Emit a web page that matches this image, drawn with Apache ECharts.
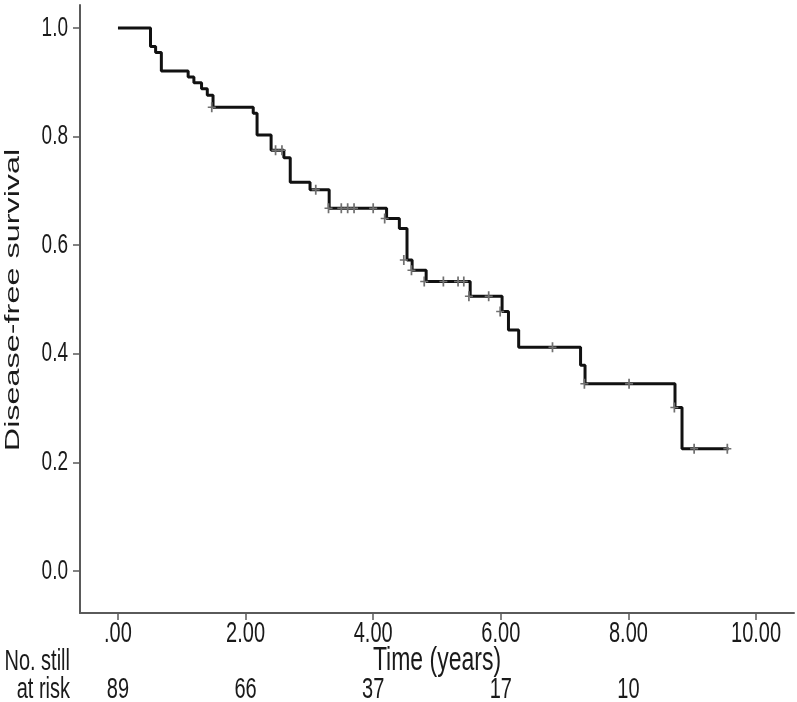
<!DOCTYPE html>
<html><head><meta charset="utf-8">
<script src="https://cdn.jsdelivr.net/npm/echarts@6/dist/echarts.min.js"></script>
<style>html,body{margin:0;padding:0;background:#fff}#c{width:797px;height:702px}</style>
</head><body><div id="c"></div>
<script>
// Kaplan-Meier step points: time (years) and survival after each event
const stepTimes = [0, 0.51, 0.59, 0.68, 1.10, 1.19, 1.31, 1.40, 1.49, 2.12, 2.18, 2.40, 2.60, 2.70, 3.01, 3.31, 4.21, 4.41, 4.53, 4.61, 4.83, 5.52, 6.02, 6.12, 6.28, 7.25, 7.32, 8.73, 8.84, 9.57];
const stepSurv  = [1.0, 0.966, 0.955, 0.921, 0.910, 0.899, 0.888, 0.876, 0.854, 0.843, 0.803, 0.775, 0.761, 0.716, 0.702, 0.668, 0.649, 0.631, 0.573, 0.554, 0.533, 0.506, 0.478, 0.444, 0.412, 0.379, 0.345, 0.301, 0.225, 0.225];
// Censored observations
const censorTimes = [1.47, 2.47, 2.57, 3.10, 3.30, 3.50, 3.60, 3.70, 4.00, 4.18, 4.48, 4.60, 4.80, 5.10, 5.33, 5.42, 5.50, 5.81, 5.99, 6.81, 7.31, 8.01, 8.72, 9.03, 9.55];
const censorSurv  = [0.854, 0.775, 0.775, 0.702, 0.668, 0.668, 0.668, 0.668, 0.668, 0.649, 0.573, 0.554, 0.533, 0.533, 0.533, 0.533, 0.506, 0.506, 0.478, 0.412, 0.345, 0.345, 0.301, 0.225, 0.225];
// Axis ticks and numbers at risk
const xTicks = [0, 2, 4, 6, 8, 10];
const xTickLabels = ['.00', '2.00', '4.00', '6.00', '8.00', '10.00'];
const yTicks = [0, 0.2, 0.4, 0.6, 0.8, 1.0];
const yTickLabels = ['0.0', '0.2', '0.4', '0.6', '0.8', '1.0'];
const riskTimes = [0, 2, 4, 6, 8];
const riskCounts = [89, 66, 37, 17, 10];
const xTitle = 'Time (years)';
const yTitle = 'Disease-free survival';
const riskTitle = ['No. still', 'at risk'];

const FONT = "'Liberation Sans', Arial, sans-serif";
const TXT = '#1a1a1a';
const STRETCH = 1.45;
const chart = echarts.init(document.getElementById('c'), null, {renderer: 'canvas'});
const axisCol = '#5a5a5a';
chart.setOption({
  animation: false,
  backgroundColor: '#fff',
  grid: {left: 80, right: 3, top: 5, bottom: 89, containLabel: false},
  xAxis: {
    type: 'value', min: -0.595, max: 10.595,
    splitLine: {show: false},
    axisLine: {show: true, onZero: false, lineStyle: {color: axisCol, width: 2}},
    axisTick: {show: true, customValues: xTicks, length: 7, lineStyle: {color: axisCol, width: 1.5}},
    axisLabel: {show: false}
  },
  yAxis: {
    type: 'value', min: -0.0773, max: 1.0424,
    splitLine: {show: false},
    axisLine: {show: true, onZero: false, lineStyle: {color: axisCol, width: 2}},
    axisTick: {show: true, customValues: yTicks, length: 7, lineStyle: {color: axisCol, width: 1.5}},
    axisLabel: {show: false}
  },
  series: [{
    type: 'line', step: 'end',
    data: stepTimes.map((t, i) => [t, stepSurv[i]]),
    showSymbol: false, lineStyle: {color: '#111', width: 3}, z: 2
  }, {
    type: 'scatter',
    data: censorTimes.map((t, i) => [t, censorSurv[i]]),
    symbol: 'path://M2.75,0H4.25V4.25H7V5.75H4.25V10H2.75V5.75H0V4.25H2.75Z',
    symbolSize: [8, 10], itemStyle: {color: '#707070', opacity: 1}, z: 3
  }]
});

function txt(text, x, y, size, align, opts) {
  return Object.assign({
    type: 'text', x: x, y: y, scaleY: STRETCH, silent: true,
    style: {text: text, x: 0, y: 0, fill: TXT, font: size + 'px ' + FONT,
      align: align, textAlign: align, verticalAlign: 'middle', textVerticalAlign: 'middle'}
  }, opts || {});
}
const px = v => chart.convertToPixel({xAxisIndex: 0}, v);
const py = v => chart.convertToPixel({yAxisIndex: 0}, v);
const axisY = py(-0.0773);
const axisX = px(-0.595);
const g = [];
xTicks.forEach((v, i) => g.push(txt(xTickLabels[i], px(v), axisY + 21, 20, 'center')));
yTicks.forEach((v, i) => g.push(txt(yTickLabels[i], axisX - 12, py(v), 19, 'right')));
riskTimes.forEach((v, i) => g.push(txt(String(riskCounts[i]), px(v), axisY + 77, 20, 'center')));
g.push(txt(xTitle, (axisX + px(10.595)) / 2, axisY + 48, 23, 'center'));
g.push(txt(riskTitle[0], 70, axisY + 49, 20, 'right'));
g.push(txt(riskTitle[1], 70, axisY + 77, 20, 'right'));
g.push({
  type: 'text', x: 13, y: 300, rotation: Math.PI / 2, scaleX: 1.62, silent: true,
  style: {text: yTitle, x: 0, y: 0, fill: TXT, font: '20px ' + FONT,
    align: 'center', textAlign: 'center', verticalAlign: 'middle', textVerticalAlign: 'middle'}
});
chart.setOption({graphic: g});
</script></body></html>
